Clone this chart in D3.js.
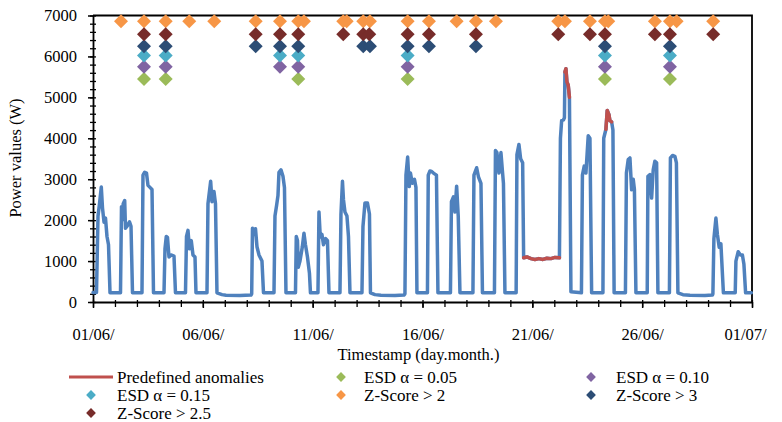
<!DOCTYPE html>
<html>
<head>
<meta charset="utf-8">
<script src="https://cdn.jsdelivr.net/npm/d3@7"></script>
<style>
  html, body { margin: 0; padding: 0; background: #fff; }
  svg { display: block; }
  text { font-family: "Liberation Serif", "Times New Roman", serif; fill: #000; }
</style>
</head>
<body>
<svg id="chart" width="782" height="422"></svg>
<script>
// ---------------- DATA ----------------
// time in days since 01/06 00:00
const timeDays = [
  0, 0.159, 0.228, 0.296, 0.378, 0.432, 0.501, 0.569, 0.637, 0.706, 0.774,
  1.252, 1.297, 1.320, 1.375, 1.443, 1.479, 1.548, 1.661, 1.730, 1.798,
  2.230, 2.276, 2.353, 2.435, 2.503, 2.594, 2.686, 2.754,
  3.232, 3.277, 3.336, 3.391, 3.459, 3.550, 3.687, 3.755,
  4.210, 4.256, 4.324, 4.392, 4.474, 4.552, 4.643, 4.688,
  5.189, 5.234, 5.357, 5.417, 5.507, 5.576, 5.644,
  5.872, 6.054, 6.691, 7.192,
  7.224, 7.260, 7.328, 7.397, 7.465, 7.556, 7.692, 7.761,
  8.239, 8.284, 8.361, 8.421, 8.466, 8.557, 8.648, 8.716, 8.785,
  9.217, 9.254, 9.308, 9.345, 9.422, 9.527, 9.604, 9.672, 9.763, 9.854, 9.900,
  10.241, 10.287, 10.346, 10.423, 10.492, 10.592, 10.674, 10.742,
  11.243, 11.288, 11.357, 11.402, 11.470, 11.561, 11.630, 11.698,
  12.244, 12.290, 12.381, 12.494, 12.585, 12.631,
  12.836, 13.109, 13.746, 14.156,
  14.201, 14.247, 14.324, 14.397, 14.452, 14.534, 14.634, 14.702, 14.747,
  15.225, 15.262, 15.339, 15.416, 15.498, 15.635, 15.703,
  16.272, 16.318, 16.409, 16.477, 16.554, 16.627, 16.705,
  17.296, 17.342, 17.465, 17.547, 17.661, 17.729,
  18.275, 18.321, 18.389, 18.480, 18.571, 18.639, 18.685, 18.753,
  19.263, 19.299, 19.390, 19.467, 19.559, 19.604, 19.754, 19.936, 20.118, 20.300, 20.482, 20.665, 20.847, 21.029, 21.234,
  21.279, 21.334, 21.416, 21.461, 21.484, 21.529, 21.575, 21.634, 21.689, 21.757,
  22.235, 22.280, 22.362, 22.440, 22.544, 22.622, 22.699,
  23.214, 23.250, 23.350, 23.410, 23.487, 23.532, 23.610, 23.669, 23.723,
  24.238, 24.283, 24.365, 24.443, 24.520, 24.593, 24.647, 24.716,
  25.230, 25.262, 25.353, 25.430, 25.503, 25.580, 25.658, 25.717,
  26.241, 26.286, 26.386, 26.491, 26.559, 26.627,
  26.855, 27.174, 27.856, 28.198,
  28.220, 28.266, 28.357, 28.425, 28.507, 28.584, 28.698,
  29.236, 29.268, 29.372, 29.472, 29.563, 29.631, 29.709, 29.970
];
const powerW = [
  230, 230, 2100, 2400, 2810, 2300, 1950, 2050, 1600, 1400, 225,
  225, 2330, 2000, 2400, 2480, 1800, 1850, 1960, 1850, 225,
  225, 3100, 3170, 3150, 2850, 2800, 2750, 225,
  225, 1300, 1600, 1580, 1100, 1150, 1120, 225,
  225, 1600, 1750, 1300, 1500, 1150, 1100, 225,
  225, 2400, 2950, 2450, 2700, 2400, 225,
  180, 165, 160, 170,
  200, 1800, 1650, 1790, 1350, 1150, 1000, 225,
  225, 2100, 2370, 2600, 3170, 3230, 3070, 2800, 225,
  225, 1600, 1500, 850, 1000, 1340, 1680, 1400, 1100, 700, 225,
  225, 2200, 1590, 1650, 1400, 1550, 1500, 225,
  225, 2150, 2950, 2500, 2200, 2100, 1600, 225,
  225, 1850, 2420, 2420, 2150, 225,
  180, 165, 160, 170,
  200, 3100, 3540, 2820, 3150, 2900, 3000, 2800, 225,
  225, 3100, 3200, 3190, 3150, 3100, 225,
  225, 2450, 2570, 2200, 2830, 2100, 225,
  225, 3100, 3280, 3060, 2900, 225,
  225, 3700, 3650, 3150, 3650, 3200, 2900, 225,
  225, 3600, 3850, 3500, 3400, 1080, 1100, 1060, 1040, 1060, 1040, 1070, 1060, 1090, 1080,
  4000, 4430, 4450, 4500, 5620, 5700, 5380, 5300, 5000, 250,
  225, 3100, 3320, 3150, 4060, 4000, 225,
  225, 4000, 4220, 4680, 4580, 4430, 4400, 4200, 225,
  225, 3150, 3480, 3520, 2740, 3000, 2750, 225,
  225, 3070, 3110, 2540, 3230, 3440, 3400, 225,
  225, 3520, 3580, 3560, 3400, 225,
  180, 165, 160, 170,
  200, 1550, 2050, 1650, 1340, 1420, 225,
  225, 1000, 1230, 1150, 1150, 930, 225, 225
];
// predefined anomaly periods [start, end] in days
const anomalyRanges = [[19.604, 21.234], [21.484, 21.689], [23.350, 23.610]];

// detected anomaly markers (day positions) and the row value they are plotted at
const esd005Days  = [2.321, 3.309, 9.345, 14.324, 23.305, 26.263];
const esd010Days  = [2.321, 3.309, 8.512, 9.345, 14.324, 23.305, 26.263];
const esd015Days  = [2.321, 3.309, 8.512, 9.345, 14.324, 23.305, 26.263];
const z2Days      = [1.274, 2.321, 3.309, 4.383, 5.521, 7.406, 8.512, 9.345, 9.604, 11.393, 11.548,
                     12.303, 12.608, 14.324, 15.294, 16.554, 17.433, 18.343, 21.179, 21.484,
                     22.622, 23.305, 23.455, 25.580, 26.263, 26.568, 28.234];
const z3Days      = [2.321, 3.309, 7.406, 8.512, 9.345, 12.303, 12.608, 14.324, 15.294, 17.433, 23.305, 26.263];
const z25Days     = [2.321, 3.309, 7.406, 8.512, 9.345, 11.393, 12.303, 12.576, 14.324, 15.294, 17.433,
                     21.179, 22.622, 23.305, 25.580, 26.263, 28.234];

const seriesNames  = ["ESD α = 0.05", "ESD α = 0.10", "ESD α = 0.15", "Z-Score > 2", "Z-Score > 3", "Z-Score > 2.5"];
const seriesLevels = [5450, 5750, 6020, 6860, 6250, 6540];
const seriesColors = ["#9BBB59", "#8064A2", "#4BACC6", "#F79646", "#2C4D75", "#772C2A"];
const seriesDays   = [esd005Days, esd010Days, esd015Days, z2Days, z3Days, z25Days];

const xTickDays   = [0, 5, 10, 15, 20, 25, 30];
const xTickLabels = ["01/06/", "06/06/", "11/06/", "16/06/", "21/06/", "26/06/", "01/07/"];
const yTicks      = [0, 1000, 2000, 3000, 4000, 5000, 6000, 7000];

const lineColor = "#4F81BD", anomalyColor = "#C0504D";

// ---------------- CHART ----------------
const svg = d3.select("#chart");
const x = d3.scaleLinear().domain([0, 30]).range([93, 752]);
const y = d3.scaleLinear().domain([0, 7000]).range([302, 15.5]);

const main = timeDays.map((t, i) => ({ t, v: powerW[i] }));

// frame (top and right)
svg.append("path")
  .attr("d", `M${x(0)},${y(7000)}H${x(30)}V${y(0)}`)
  .attr("fill", "none").attr("stroke", "#000").attr("stroke-width", 1.8);

// y axis
const yMinor = d3.range(0, 7001, 200);
svg.append("g").attr("transform", `translate(${x(0)},0)`)
  .call(d3.axisRight(y).tickValues(yMinor).tickSize(3).tickSizeOuter(0).tickFormat(""))
  .call(g => g.select(".domain").remove())
  .call(g => g.selectAll("line").attr("stroke-width", 1.3));
svg.append("g").attr("transform", `translate(${x(0)},0)`)
  .call(d3.axisLeft(y).tickValues(yMinor).tickSize(3).tickSizeOuter(0).tickFormat(""))
  .call(g => g.select(".domain").remove())
  .call(g => g.selectAll("line").attr("stroke-width", 1.3));
const yAx = svg.append("g").attr("transform", `translate(${x(0)},0)`)
  .call(d3.axisLeft(y).tickValues(yTicks).tickSize(5).tickSizeOuter(0).tickPadding(11).tickFormat(d3.format("d")));
yAx.select(".domain").attr("stroke-width", 1.8);
yAx.selectAll("line").attr("stroke-width", 1.5);
yAx.selectAll("text").attr("font-size", 16.5).attr("font-family", "Liberation Serif");

// x axis
svg.append("g").attr("transform", `translate(0,${y(0)})`)
  .call(d3.axisBottom(x).tickValues(d3.range(0, 31)).tickSize(5).tickSizeOuter(0).tickFormat(""))
  .call(g => g.select(".domain").remove())
  .call(g => g.selectAll("line").attr("stroke-width", 1.3));
svg.append("g").attr("transform", `translate(0,${y(0)})`)
  .call(d3.axisTop(x).tickValues(d3.range(0, 31)).tickSize(2).tickSizeOuter(0).tickFormat(""))
  .call(g => g.select(".domain").remove())
  .call(g => g.selectAll("line").attr("stroke-width", 1.3));
const xAx = svg.append("g").attr("transform", `translate(0,${y(0)})`)
  .call(d3.axisBottom(x).tickValues(xTickDays).tickSize(6).tickSizeOuter(0).tickPadding(20)
    .tickFormat((d, i) => xTickLabels[i]));
xAx.select(".domain").attr("stroke-width", 1.8);
xAx.selectAll("line").attr("stroke-width", 1.5);
xAx.selectAll("text").attr("font-size", 16.5).attr("font-family", "Liberation Serif")
  .attr("dx", (d, i) => i === xTickDays.length - 1 ? -7 : 0);

// axis titles
svg.append("text").attr("transform", "translate(21,158) rotate(-90)")
  .attr("text-anchor", "middle").attr("font-size", 16.5).text("Power values (W)");
svg.append("text").attr("x", 418.5).attr("y", 360)
  .attr("text-anchor", "middle").attr("font-size", 16.5).text("Timestamp (day.month.)");

// main line
const lineGen = d3.line().x(d => x(d.t)).y(d => y(d.v));
svg.append("path").datum(main).attr("d", lineGen)
  .attr("fill", "none").attr("stroke", lineColor).attr("stroke-width", 3.5)
  .attr("stroke-linejoin", "round").attr("stroke-linecap", "round");

// predefined anomalies
anomalyRanges.forEach(([a, b]) => {
  const seg = main.filter(d => d.t >= a - 1e-6 && d.t <= b + 1e-6);
  svg.append("path").datum(seg).attr("d", lineGen)
    .attr("fill", "none").attr("stroke", anomalyColor).attr("stroke-width", 3.5)
    .attr("stroke-linejoin", "round").attr("stroke-linecap", "round");
});

// markers
const diamond = d3.symbol().type(d3.symbolSquare).size(98);
seriesDays.forEach((days, si) => {
  svg.append("g").selectAll("path").data(days).join("path")
    .attr("d", diamond)
    .attr("transform", d => `translate(${x(d)},${y(seriesLevels[si])}) rotate(45)`)
    .attr("fill", seriesColors[si]);
});

// legend
const legendItems = [
  { name: "Predefined anomalies", color: anomalyColor, line: true },
  { name: seriesNames[0], color: seriesColors[0] },
  { name: seriesNames[1], color: seriesColors[1] },
  { name: seriesNames[2], color: seriesColors[2] },
  { name: seriesNames[3], color: seriesColors[3] },
  { name: seriesNames[4], color: seriesColors[4] },
  { name: seriesNames[5], color: seriesColors[5] }
];
const colMarkerX = [91, 341, 591];
const colTextX = [117, 364, 616];
const rowY = [377, 395, 413];
const smallDiamond = d3.symbol().type(d3.symbolSquare).size(48);
legendItems.forEach((it, i) => {
  const c = i % 3, r = Math.floor(i / 3);
  const g = svg.append("g");
  if (it.line) {
    g.append("line").attr("x1", 69).attr("x2", 113).attr("y1", rowY[r]).attr("y2", rowY[r])
      .attr("stroke", it.color).attr("stroke-width", 3);
  } else {
    g.append("path").attr("d", smallDiamond)
      .attr("transform", `translate(${colMarkerX[c]},${rowY[r]}) rotate(45)`)
      .attr("fill", it.color);
  }
  g.append("text").attr("x", colTextX[c]).attr("y", rowY[r] + 5.5)
    .attr("font-size", 17).text(it.name);
});
</script>
</body>
</html>
